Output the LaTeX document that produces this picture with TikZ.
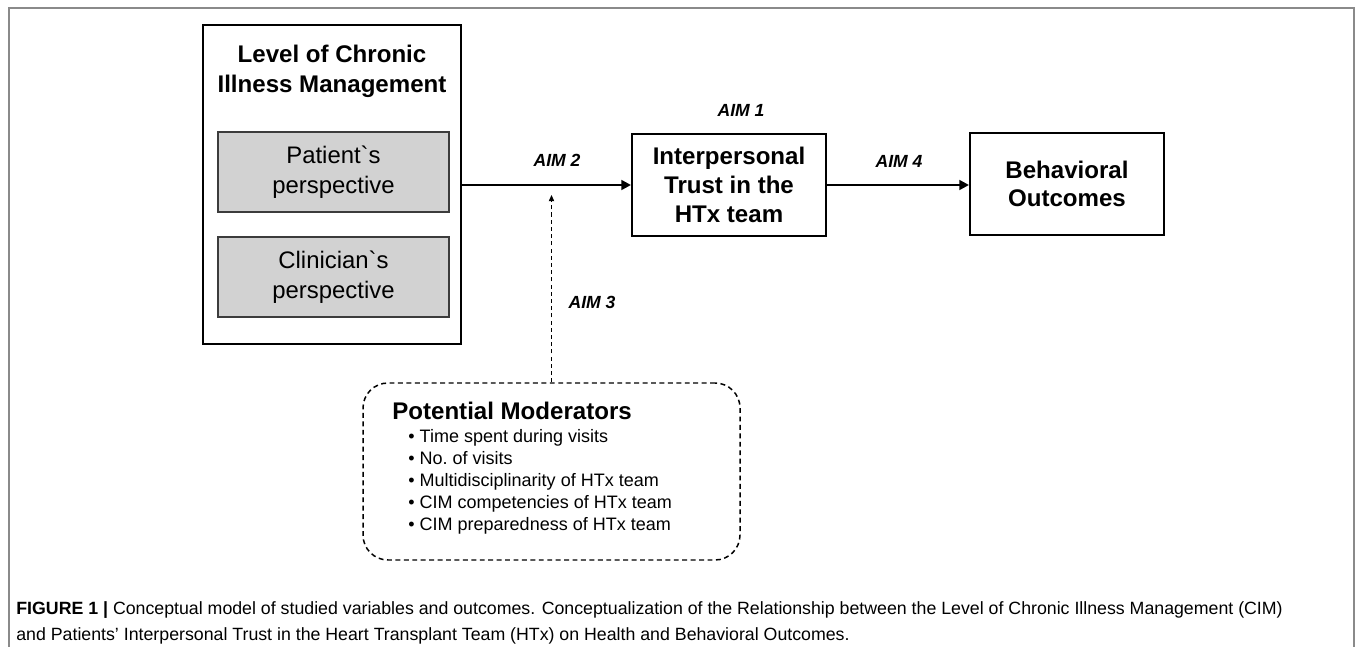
\documentclass[tikz,border=0pt]{standalone}
\usepackage{fontspec}
\setmainfont{Liberation Sans}
\usepackage{tikz}
\usetikzlibrary{arrows.meta, positioning}

\definecolor{boxgrey}{HTML}{D2D2D2}
\definecolor{edgegrey}{HTML}{3C3C3C}
\definecolor{framegrey}{HTML}{8A8A8A}

\tikzset{
  box/.style={draw, line width=0.9pt, inner sep=0pt},
  greybox/.style={draw=edgegrey, fill=boxgrey, line width=1pt, minimum width=4.62cm,
    minimum height=1.6cm, align=center, font=\fontsize{13.6}{17}\selectfont},
  bigtext/.style={align=center, font=\bfseries\fontsize{13.7}{16.6}\selectfont},
  aimlabel/.style={font=\bfseries\itshape\fontsize{10}{12}\selectfont},
  mainarrow/.style={line width=1.7pt, -{Triangle[length=5.5pt, width=5.5pt]}},
  modarrow/.style={line width=0.6pt, dash pattern=on 2.3pt off 1.8pt,
    -{Triangle[length=3.5pt, width=3pt]}}
}

\begin{document}
\begin{tikzpicture}
  \useasboundingbox (0,0) rectangle (27.1,-12.94);

  % Page frame (open at the bottom)
  \draw[framegrey, line width=0.6pt] (0.18,-12.94) -- (0.18,-0.16) -- (27.08,-0.16) -- (27.08,-12.94);

  % Level of chronic illness management with its two perspectives
  \node[box, minimum width=5.16cm, minimum height=6.38cm] (cimbox) at (6.64,-3.69) {};
  \node[bigtext, font=\bfseries\fontsize{13.7}{17}\selectfont] (cimtitle) at (6.64,-1.42) {Level of Chronic\\Illness Management};
  \node[greybox] (patient) at (6.67,-3.44) {Patient\textasciigrave s\\perspective};
  \node[greybox] (clinician) at (6.67,-5.54) {Clinician\textasciigrave s\\perspective};

  % Trust and outcomes
  \node[box, line width=1.1pt, minimum width=3.88cm, minimum height=2.04cm, bigtext] (trust) at (14.58,-3.70)
    {Interpersonal\\Trust in the\\HTx team};
  \node[box, line width=1.1pt, minimum width=3.88cm, minimum height=2.04cm, bigtext,
    font=\bfseries\fontsize{13.7}{16}\selectfont] (outcome) at (21.34,-3.68) {Behavioral\\Outcomes};

  % Moderators
  \node[draw, line width=0.85pt, dash pattern=on 2.8pt off 2pt, rounded corners=0.5cm,
    minimum width=7.54cm, minimum height=3.54cm] (mods) at (11.03,-9.43) {};
  \node[anchor=west, inner sep=0pt, font=\bfseries\fontsize{13.7}{16}\selectfont] (modtitle) at (7.84,-8.22)
    {Potential Moderators};
  \foreach \txt [count=\i] in {Time spent during visits, No.\ of visits, Multidisciplinarity of HTx team,
      CIM competencies of HTx team, CIM preparedness of HTx team} {
    \node[anchor=base west, inner sep=0pt, font=\fontsize{10.25}{12}\selectfont] (mod\i)
      at (8.16,{-8.85-0.44*(\i-1)}) {\textbullet\ \txt};
  }

  % Arrows between the blocks
  \draw[mainarrow] (cimbox.east |- trust.west) -- (trust.west);
  \draw[mainarrow] (trust.east) -- (outcome.west |- trust.east);
  \coordinate (hit) at (11.03,-3.9);
  \draw[modarrow] (mods.north) -- (hit);

  % Aim labels
  \node[aimlabel] (aim1) at (14.82,-2.2) {AIM 1};
  \node[aimlabel] (aim2) at (11.14,-3.2) {AIM 2};
  \node[aimlabel] (aim3) at (11.84,-6.04) {AIM 3};
  \node[aimlabel] (aim4) at (17.98,-3.22) {AIM 4};

  % Caption
  \node[anchor=west, align=left, inner sep=0pt, font=\fontsize{10.1}{14.8}\selectfont] (caption) at (0.32,-12.46)
    {\textbf{FIGURE 1 |} Conceptual model of studied variables and outcomes. Conceptualization of the Relationship between the Level of Chronic Illness Management (CIM)\\
     and Patients’ Interpersonal Trust in the Heart Transplant Team (HTx) on Health and Behavioral Outcomes.};
\end{tikzpicture}
\end{document}
